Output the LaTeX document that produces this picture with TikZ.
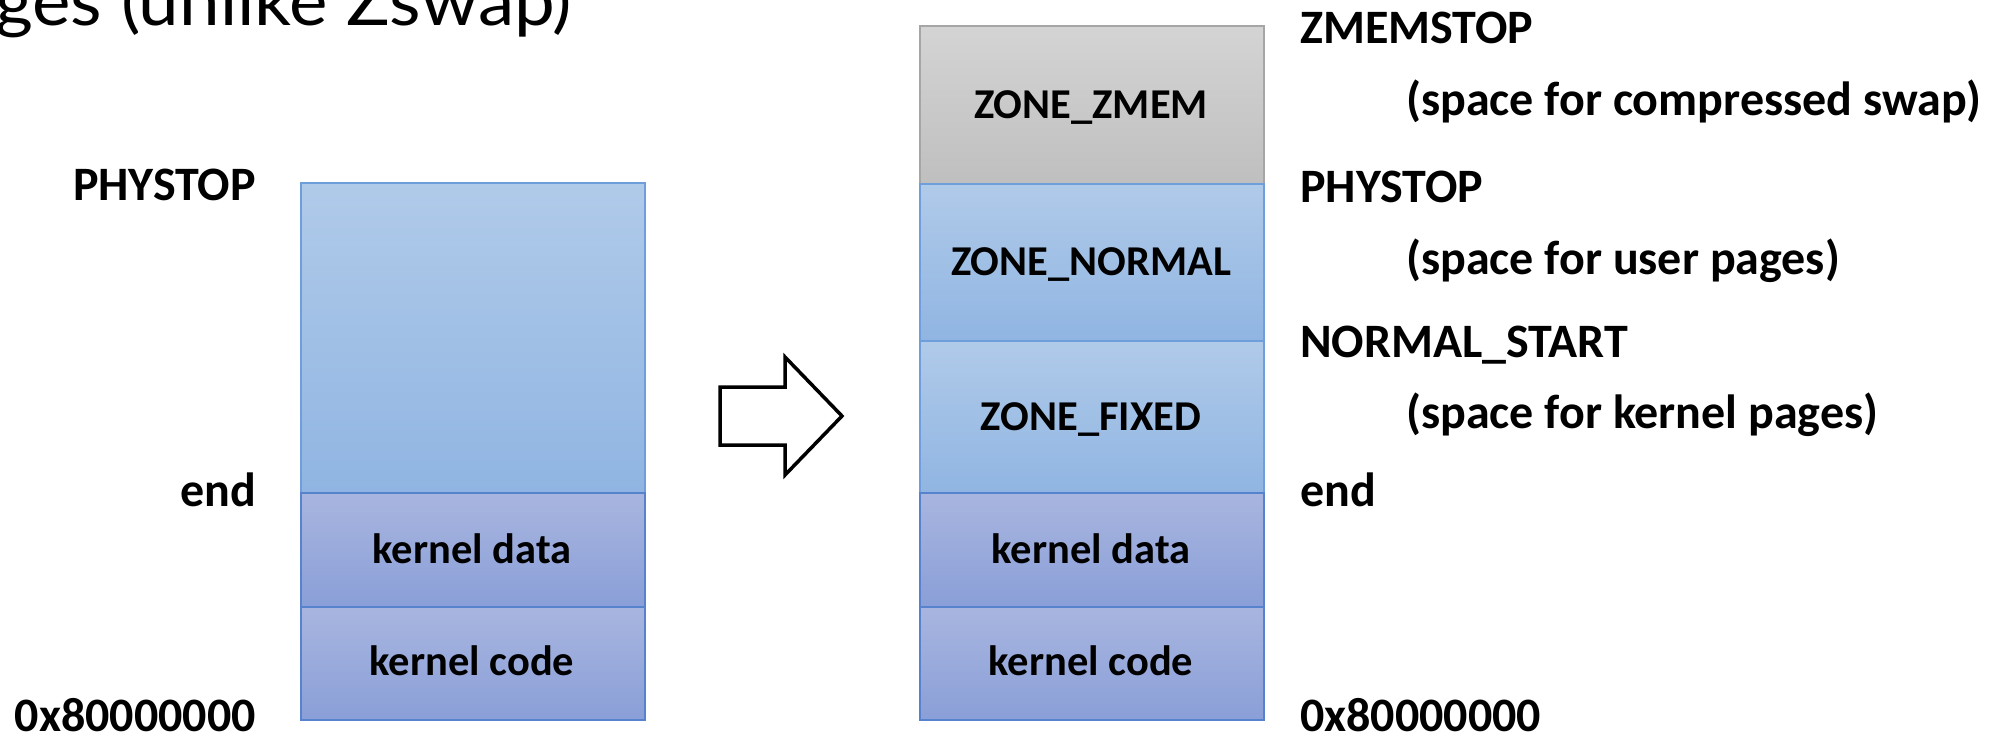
\documentclass[tikz,border=0pt]{standalone}
\usepackage{fontspec}
\setmainfont{Carlito}
\newfontfamily\titlefont{Lato}
\begin{document}
\begin{tikzpicture}[x=1pt,y=-1pt,
  lbl/.style={font=\fontsize{48}{56}\selectfont\bfseries, inner sep=0pt, text=black},
  boxlbl/.style={font=\fontsize{42.5}{50}\selectfont\bfseries, inner sep=0pt, text=black, anchor=base},
  zone/.style={draw=#1, line width=2pt, inner sep=0pt, anchor=north west},
  freezone/.style={zone=freeedge, top color=freetop, bottom color=freebot},
  kernzone/.style={zone=kernedge, top color=kerntop, bottom color=kernbot},
  greyzone/.style={zone=greyedge, top color=greytop, bottom color=greybot},
]
\definecolor{freetop}{HTML}{B0CAE9}
\definecolor{freebot}{HTML}{90B5E2}
\definecolor{freeedge}{HTML}{6F9FDA}
\definecolor{kerntop}{HTML}{A8B5DF}
\definecolor{kernbot}{HTML}{8A9FD8}
\definecolor{kernedge}{HTML}{5682CE}
\definecolor{greytop}{HTML}{D4D4D4}
\definecolor{greybot}{HTML}{BFBFBF}
\definecolor{greyedge}{HTML}{A6A6A6}

\useasboundingbox (0,0) rectangle (1995,734);
\clip (0,0) rectangle (1995,734);

% heading fragment
\node[anchor=base west, inner sep=0pt, font=\titlefont\fontsize{68}{76}\selectfont, xscale=1.07] (title) at (-5,25) {ges (unlike Zswap)};

% original layout
\node[freezone, minimum width=344pt, minimum height=310pt] (lfree) at (300,182) {};
\node[kernzone, minimum width=344pt, minimum height=114pt] (ldata) at (300,492) {};
\node[kernzone, minimum width=344pt, minimum height=113pt] (lcode) at (300,606) {};
\node[boxlbl] at (472,563) {kernel data};
\node[boxlbl] at (472,675) {kernel code};

\node[lbl, anchor=base east] (lphys) at (256,200) {PHYSTOP};
\node[lbl, anchor=base east] (lend) at (256,506) {end};
\node[lbl, anchor=base east] (lbase) at (256,731) {0x80000000};

% transition arrow
\draw[line width=3.5pt, line join=miter, fill=white]
  (720,387) -- (785,387) -- (785,357) -- (842,416) -- (785,475) -- (785,445) -- (720,445) -- cycle;

% new layout
\node[greyzone, minimum width=344pt, minimum height=158pt] (rzmem) at (919,25) {};
\node[freezone, minimum width=344pt, minimum height=157pt] (rnorm) at (919,183) {};
\node[freezone, minimum width=344pt, minimum height=152pt] (rfix) at (919,340) {};
\node[kernzone, minimum width=344pt, minimum height=114pt] (rdata) at (919,492) {};
\node[kernzone, minimum width=344pt, minimum height=113pt] (rcode) at (919,606) {};
\node[boxlbl] at (1091,118) {ZONE\_ZMEM};
\node[boxlbl] at (1091,275) {ZONE\_NORMAL};
\node[boxlbl] at (1091,430) {ZONE\_FIXED};
\node[boxlbl] at (1091,563) {kernel data};
\node[boxlbl] at (1091,675) {kernel code};

\node[lbl, anchor=base west] (rztop) at (1300,43) {ZMEMSTOP};
\node[lbl, anchor=base west] at (1406,115) {(space for compressed swap)};
\node[lbl, anchor=base west] (rphys) at (1300,202) {PHYSTOP};
\node[lbl, anchor=base west] at (1406,274) {(space for user pages)};
\node[lbl, anchor=base west] (rnstart) at (1300,357) {NORMAL\_START};
\node[lbl, anchor=base west] at (1406,428) {(space for kernel pages)};
\node[lbl, anchor=base west] (rend) at (1300,506) {end};
\node[lbl, anchor=base west] (rbase) at (1300,731) {0x80000000};
\end{tikzpicture}
\end{document}
